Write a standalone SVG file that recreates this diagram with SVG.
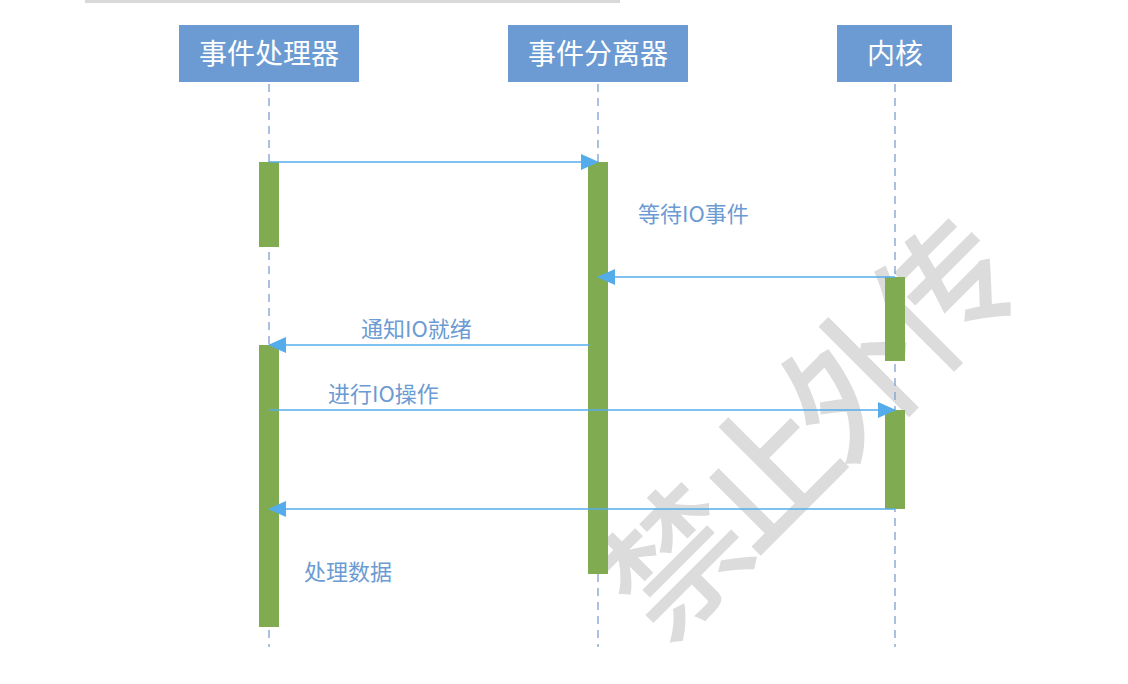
<svg xmlns="http://www.w3.org/2000/svg" width="1128" height="684" viewBox="0 0 1128 684">
<defs>
<style>
.head{fill:#6b9bd2}
.htxt{font-family:"Noto Sans CJK SC","Liberation Sans",sans-serif;font-size:28px;fill:#ffffff;text-anchor:middle}
.life{stroke:#7f9fd0;stroke-width:1.3;stroke-dasharray:8,6;fill:none}
.act{fill:#80ab50}
.msg{stroke:#55aceb;stroke-width:1.5;fill:none}
.lbl{font-family:"Noto Sans CJK SC","Liberation Sans",sans-serif;font-size:22px;fill:#6b9bd2}
.wm{font-family:"Noto Sans CJK SC",sans-serif;font-size:138px;font-weight:500;letter-spacing:-12px;fill:#dcdcdc}
</style>
<marker id="ah" markerWidth="18" markerHeight="16" refX="17" refY="8" orient="auto" markerUnits="userSpaceOnUse">
<path d="M0,0 L18,8 L0,16 Z" fill="#55aceb"/>
</marker>
</defs>
<rect width="1128" height="684" fill="#ffffff"/>
<rect x="85" y="0" width="535" height="3" fill="#d9d9d9"/>

<g id="watermark">
<text class="wm" x="-6" y="0" transform="translate(804,421) rotate(-45)" text-anchor="middle" dominant-baseline="central">禁止外传</text>
</g>

<g id="lifelines">
<line class="life" x1="269" y1="84" x2="269" y2="647"/>
<line class="life" x1="598" y1="84" x2="598" y2="647"/>
<line class="life" x1="895" y1="84" x2="895" y2="647"/>
</g>

<g id="handler">
<rect class="head" x="179" y="25" width="180" height="57"/>
<text class="htxt" x="269" y="64">事件处理器</text>
<rect class="act" x="259" y="162" width="20" height="85"/>
<rect class="act" x="259" y="345" width="20" height="282"/>
</g>
<g id="demux">
<rect class="head" x="508" y="25" width="180" height="57"/>
<text class="htxt" x="598" y="64">事件分离器</text>
<rect class="act" x="588" y="162" width="20" height="412"/>
</g>
<g id="kernel">
<rect class="head" x="837" y="25" width="115" height="57"/>
<text class="htxt" x="895" y="64">内核</text>
<rect class="act" x="885" y="277" width="20" height="84"/>
<rect class="act" x="885" y="410" width="20" height="99"/>
</g>

<g id="connectors">
<line class="msg" x1="269" y1="162" x2="598" y2="162" marker-end="url(#ah)"/>
<line class="msg" x1="895" y1="277" x2="598" y2="277" marker-end="url(#ah)"/>
<line class="msg" x1="590" y1="345" x2="269" y2="345" marker-end="url(#ah)"/>
<line class="msg" x1="269" y1="410" x2="895" y2="410" marker-end="url(#ah)"/>
<line class="msg" x1="895" y1="509" x2="269" y2="509" marker-end="url(#ah)"/>
</g>

<g id="labels">
<text class="lbl" x="638" y="222">等待IO事件</text>
<text class="lbl" x="361" y="337">通知IO就绪</text>
<text class="lbl" x="328" y="402">进行IO操作</text>
<text class="lbl" x="304" y="580">处理数据</text>
</g>
</svg>
